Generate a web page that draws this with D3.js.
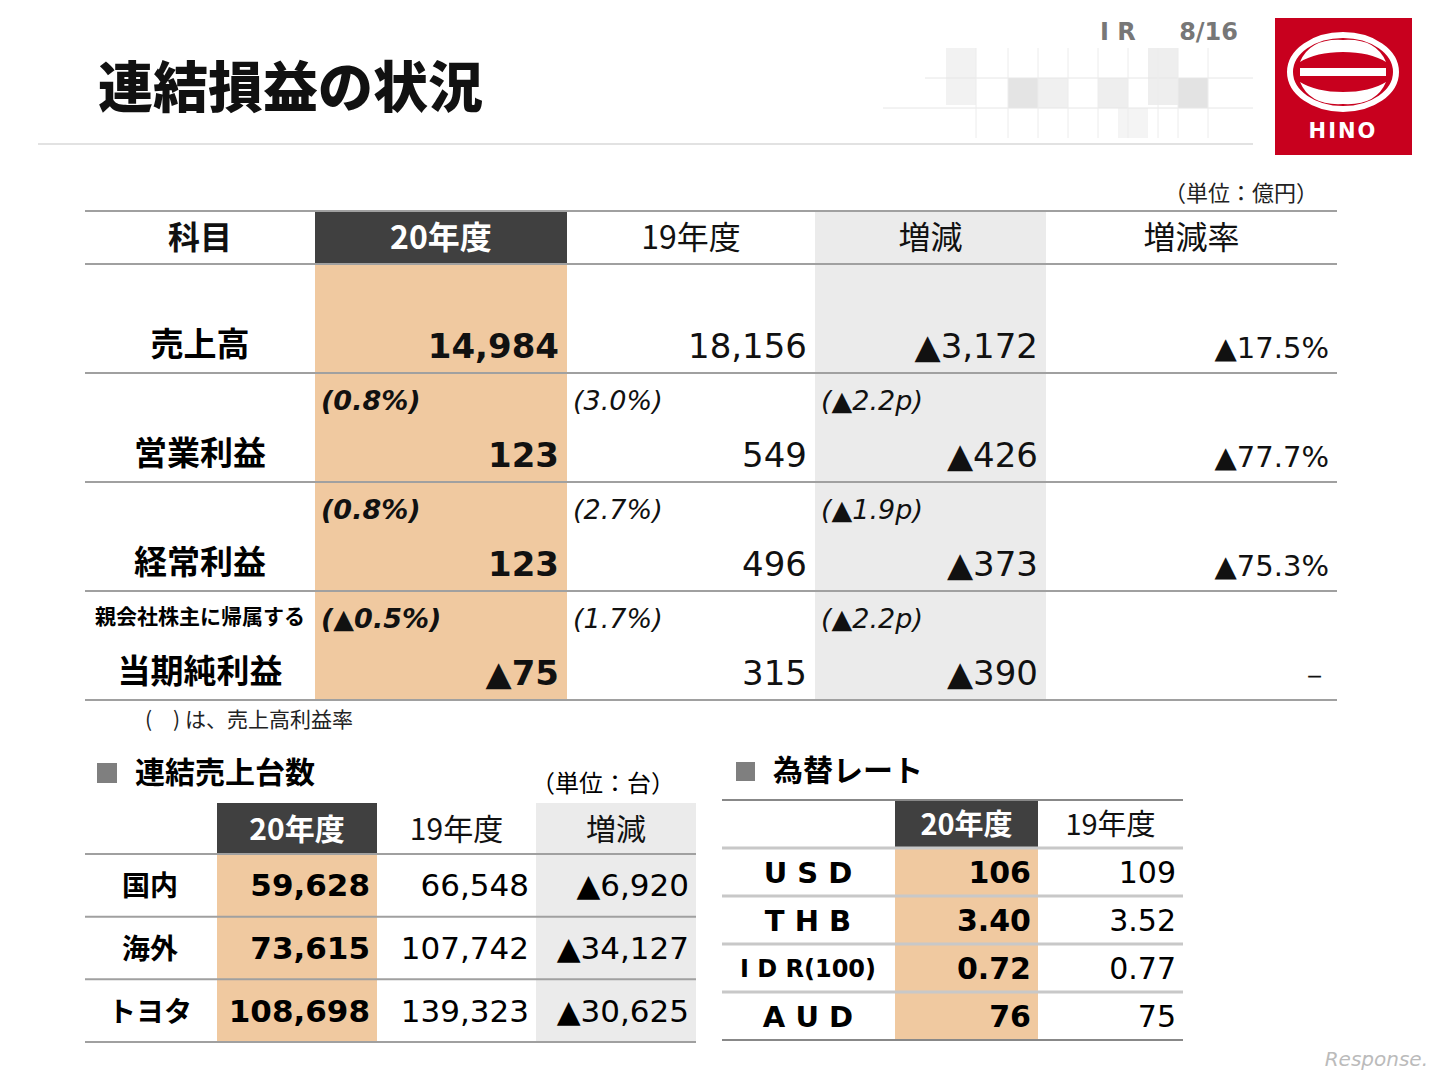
<!DOCTYPE html>
<html><head><meta charset="utf-8">
<script src="https://cdn.jsdelivr.net/npm/d3@7"></script>
<style>body{margin:0;background:#fff}svg{display:block}</style>
</head><body>
<script>
const mainCols = ["科目","20年度","19年度","増減","増減率"];
const mainRows = ["売上高","営業利益","経常利益","当期純利益"];
const mainRowSub = ["","","","親会社株主に帰属する"];
const cur20 = ["14,984","123","123","▲75"];
const prev19 = ["18,156","549","496","315"];
const diff = ["▲3,172","▲426","▲373","▲390"];
const diffRate = ["▲17.5%","▲77.7%","▲75.3%","－"];
const ratio20 = ["","(0.8%)","(0.8%)","(▲0.5%)"];
const ratio19 = ["","(3.0%)","(2.7%)","(1.7%)"];
const ratioDiff = ["","(▲2.2p)","(▲1.9p)","(▲2.2p)"];

const unitCols = ["","20年度","19年度","増減"];
const unitRows = ["国内","海外","トヨタ"];
const unit20 = ["59,628","73,615","108,698"];
const unit19 = ["66,548","107,742","139,323"];
const unitDiff = ["▲6,920","▲34,127","▲30,625"];

const fxCols = ["","20年度","19年度"];
const fxRows = ["U S D","T H B","I D R(100)","A U D"];
const fx20 = ["106","3.40","0.72","76"];
const fx19 = ["109","3.52","0.77","75"];

const PEACH="#f0c9a0", DARK="#404040", GRAY="#ebebeb", LINE="#a0a0a0";
const JP="'Noto Sans CJK JP','Noto Sans',sans-serif";
const NUM="'DejaVu Sans',Verdana,sans-serif";

const svg=d3.select("body").append("svg").attr("width",1440).attr("height",1080);

// header decoration
const deco=svg.append("g");
[[946,48,30,57,"#f2f2f2"],[1008,78,30,30,"#e4e4e4"],[1038,78,30,30,"#f0f0f0"],[1098,78,30,30,"#eeeeee"],[1148,48,30,57,"#eeeeee"],[1178,78,30,30,"#e3e3e3"],[1118,108,30,30,"#f4f4f4"]]
 .forEach(d=>deco.append("rect").attr("x",d[0]).attr("y",d[1]).attr("width",d[2]).attr("height",d[3]).attr("fill",d[4]));
[[925,78,1253,78],[883,108,1253,108]].forEach(d=>deco.append("line").attr("x1",d[0]).attr("y1",d[1]).attr("x2",d[2]).attr("y2",d[3]).attr("stroke","#e6e6e6"));
[976,1008,1038,1068,1098,1128,1158,1178,1208].forEach(x=>deco.append("line").attr("x1",x).attr("x2",x).attr("y1",48).attr("y2",138).attr("stroke","#ececec"));
svg.append("line").attr("x1",38).attr("x2",1253).attr("y1",144).attr("y2",144).attr("stroke","#e2e2e2").attr("stroke-width",2);
svg.append("text").attr("x",98).attr("y",107).attr("font-family",JP).attr("font-weight",900).attr("font-size",55).attr("fill","#111").text("連結損益の状況");
svg.append("text").attr("x",1100).attr("y",40).attr("font-family",NUM).attr("font-weight","bold").attr("font-size",24).attr("fill","#777").text("I R");
svg.append("text").attr("x",1238).attr("y",40).attr("text-anchor","end").attr("font-family",NUM).attr("font-weight","bold").attr("font-size",24).attr("fill","#777").text("8/16");
// logo
const lg=svg.append("g");
lg.append("rect").attr("x",1275).attr("y",18).attr("width",137).attr("height",137).attr("fill","#c8001e");
lg.append("ellipse").attr("cx",1343).attr("cy",72).attr("rx",53).attr("ry",37).attr("fill","none").attr("stroke","#fff").attr("stroke-width",6);
lg.append("path").attr("d","M1300,62 Q1310,38 1343,40 Q1376,38 1386,62 Q1370,52 1343,52 Q1316,52 1300,62Z").attr("fill","#fff");
lg.append("path").attr("d","M1300,82 Q1310,106 1343,104 Q1376,106 1386,82 Q1370,92 1343,92 Q1316,92 1300,82Z").attr("fill","#fff");
lg.append("rect").attr("x",1300).attr("y",68).attr("width",86).attr("height",8).attr("fill","#fff");
lg.append("text").attr("x",1343).attr("y",138).attr("text-anchor","middle").attr("font-family",NUM).attr("font-weight","900").attr("font-size",21).attr("fill","#fff").attr("letter-spacing",2).text("HINO");

svg.append("text").attr("x",1318).attr("y",201).attr("text-anchor","end").attr("font-family",JP).attr("font-size",22).attr("fill","#222").text("（単位：億円）");

// ===== main table =====
const mEdges=[85,315,567,815,1046,1337];
const mx=d3.scaleOrdinal().domain(mainCols).range(mEdges.slice(0,5));
const mw=c=>mEdges[mainCols.indexOf(c)+1]-mEdges[mainCols.indexOf(c)];
const my=d3.scaleBand().domain(mainRows).range([264,700]);
const g=svg.append("g");
g.append("rect").attr("x",mx("20年度")).attr("y",211).attr("width",mw("20年度")).attr("height",53).attr("fill",DARK);
g.append("rect").attr("x",mx("20年度")).attr("y",264).attr("width",mw("20年度")).attr("height",436).attr("fill",PEACH);
g.append("rect").attr("x",mx("増減")).attr("y",211).attr("width",mw("増減")).attr("height",489).attr("fill",GRAY);
g.selectAll(".h").data(mainCols).join("text").attr("x",c=>mx(c)+mw(c)/2).attr("y",249).attr("text-anchor","middle")
 .attr("font-family",JP).attr("font-size",32).attr("font-weight",(c,i)=>i<2?"bold":"normal").attr("fill",(c,i)=>i==1?"#fff":"#111").text(d=>d);
[211,264].concat(mainRows.map(r=>my(r)+my.bandwidth())).forEach(y=>g.append("line").attr("x1",85).attr("x2",1337).attr("y1",y).attr("y2",y).attr("stroke",LINE).attr("stroke-width",2));
mainRows.forEach((r,i)=>{
 const b=my(r)+my.bandwidth();
 if(mainRowSub[i]){
  g.append("text").attr("x",200).attr("y",b-76).attr("text-anchor","middle").attr("font-family",JP).attr("font-weight","bold").attr("font-size",21).text(mainRowSub[i]);
 }
 g.append("text").attr("x",200).attr("y",b-17).attr("text-anchor","middle").attr("font-family",JP).attr("font-weight","bold").attr("font-size",33).text(r);
 const vals=[[cur20,"20年度",true],[prev19,"19年度",false],[diff,"増減",false],[diffRate,"増減率",false]];
 vals.forEach(([arr,c,bold])=>g.append("text").attr("x",mx(c)+mw(c)-8).attr("y",b-15).attr("text-anchor","end")
  .attr("font-family",NUM).attr("font-weight",bold?"bold":"normal").attr("font-size",c==="増減率"?29:34).attr("fill","#111").text(arr[i]));
 [[ratio20,"20年度",true],[ratio19,"19年度",false],[ratioDiff,"増減",false]].forEach(([arr,c,bold])=>{
  if(arr[i]) g.append("text").attr("x",mx(c)+6).attr("y",b-72).attr("font-family",NUM).attr("font-style","italic").attr("font-weight",bold?"bold":"normal").attr("font-size",27).attr("fill","#111").text(arr[i]);
 });
});
svg.append("text").attr("x",145).attr("y",727).attr("font-family",JP).attr("font-size",21).attr("fill","#222").text("(　) は、売上高利益率");

// ===== units table =====
svg.append("rect").attr("x",97).attr("y",763).attr("width",20).attr("height",20).attr("fill","#7f7f7f");
svg.append("text").attr("x",135).attr("y",783).attr("font-family",JP).attr("font-weight","bold").attr("font-size",30).text("連結売上台数");
svg.append("text").attr("x",675).attr("y",792).attr("text-anchor","end").attr("font-family",JP).attr("font-size",24).text("（単位：台）");
const uEdges=[85,217,377,536,696];
const ux=i=>uEdges[i], uw=i=>uEdges[i+1]-uEdges[i];
const uy=d3.scaleBand().domain(unitRows).range([854,1042]);
const u=svg.append("g");
u.append("rect").attr("x",ux(1)).attr("y",803).attr("width",uw(1)).attr("height",51).attr("fill",DARK);
u.append("rect").attr("x",ux(1)).attr("y",854).attr("width",uw(1)).attr("height",188).attr("fill",PEACH);
u.append("rect").attr("x",ux(3)).attr("y",803).attr("width",uw(3)).attr("height",239).attr("fill",GRAY);
unitCols.forEach((c,i)=>u.append("text").attr("x",ux(i)+uw(i)/2).attr("y",840).attr("text-anchor","middle").attr("font-family",JP)
 .attr("font-size",30).attr("font-weight",i==1?"bold":"normal").attr("fill",i==1?"#fff":"#111").text(c));
[854].concat(unitRows.map(r=>uy(r)+uy.bandwidth())).forEach(y=>u.append("line").attr("x1",85).attr("x2",696).attr("y1",y).attr("y2",y).attr("stroke",LINE).attr("stroke-width",2));
unitRows.forEach((r,i)=>{
 const m=uy(r)+uy.bandwidth()/2+11;
 u.append("text").attr("x",150).attr("y",m).attr("text-anchor","middle").attr("font-family",JP).attr("font-weight","bold").attr("font-size",28).text(r);
 [[unit20,1,true],[unit19,2,false],[unitDiff,3,false]].forEach(([a,c,b])=>u.append("text").attr("x",ux(c)+uw(c)-7).attr("y",m).attr("text-anchor","end")
  .attr("font-family",NUM).attr("font-weight",b?"bold":"normal").attr("font-size",31).text(a[i]));
});

// ===== FX table =====
svg.append("rect").attr("x",736).attr("y",762).attr("width",19).attr("height",19).attr("fill","#7f7f7f");
svg.append("text").attr("x",773).attr("y",781).attr("font-family",JP).attr("font-weight","bold").attr("font-size",30).text("為替レート");
const fEdges=[722,895,1038,1183];
const fx=i=>fEdges[i], fw=i=>fEdges[i+1]-fEdges[i];
const fy=d3.scaleBand().domain(fxRows).range([848,1040]);
const f=svg.append("g");
f.append("rect").attr("x",fx(1)).attr("y",800).attr("width",fw(1)).attr("height",48).attr("fill",DARK);
f.append("rect").attr("x",fx(1)).attr("y",848).attr("width",fw(1)).attr("height",192).attr("fill",PEACH);
fxCols.forEach((c,i)=>f.append("text").attr("x",fx(i)+fw(i)/2).attr("y",835).attr("text-anchor","middle").attr("font-family",JP)
 .attr("font-size",29).attr("font-weight",i==1?"bold":"normal").attr("fill",i==1?"#fff":"#111").text(c));
[800,848].concat(fxRows.map(r=>fy(r)+fy.bandwidth())).forEach((y,k)=>f.append("line").attr("x1",722).attr("x2",1183).attr("y1",y).attr("y2",y).attr("stroke",k==0||k==5?"#888":"#c8c8c8").attr("stroke-width",k==0||k==5?2:3));
fxRows.forEach((r,i)=>{
 const m=fy(r)+fy.bandwidth()/2+11;
 f.append("text").attr("x",808).attr("y",m-(i==2?2:0)).attr("text-anchor","middle").attr("font-family",NUM).attr("font-weight","bold").attr("font-size",i==2?24:29).text(r);
 [[fx20,1,true],[fx19,2,false]].forEach(([a,c,b])=>f.append("text").attr("x",fx(c)+fw(c)-7).attr("y",m).attr("text-anchor","end")
  .attr("font-family",NUM).attr("font-weight",b?"bold":"normal").attr("font-size",30).text(a[i]));
});
svg.append("text").attr("x",1428).attr("y",1066).attr("text-anchor","end").attr("font-family",NUM).attr("font-style","italic").attr("font-size",20).attr("fill","#bbb").text("Response.");
</script>
</body></html>
